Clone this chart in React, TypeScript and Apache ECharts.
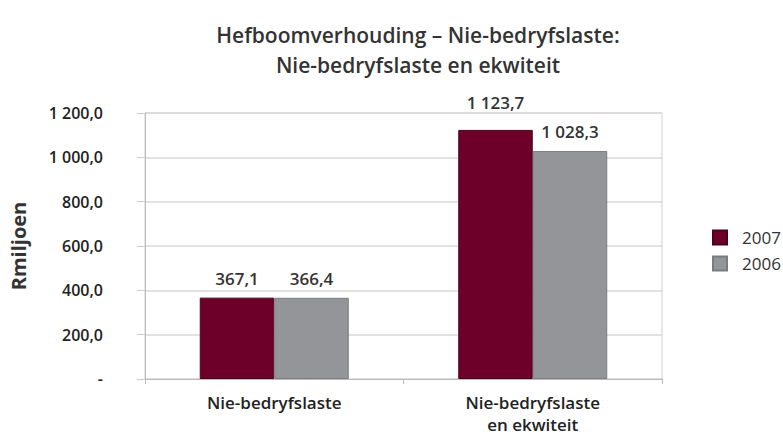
import React, { useEffect, useRef } from "react";
import * as echarts from "echarts";

const categories = ["Nie-bedryfslaste", "Nie-bedryfslaste\nen ekwiteit"];
const series2007 = [367.1, 1123.7];
const series2006 = [366.4, 1028.3];
const seriesNames = ["2007", "2006"];
const yTicks = [0, 200, 400, 600, 800, 1000, 1200];

const fmt = (v: number, dec: number) => {
  if (v === 0) return "-";
  const s = v.toFixed(dec);
  const [i, d] = s.split(".");
  const ii = i.replace(/\B(?=(\d{3})+(?!\d))/g, " ");
  return d ? ii + "," + d : ii;
};

const FONT = "'Open Sans', 'Noto Sans', sans-serif";

export default function App() {
  const ref = useRef<HTMLDivElement>(null);
  useEffect(() => {
    if (!ref.current) return;
    const chart = echarts.init(ref.current, undefined, { renderer: "svg" });
    const labelStyle = {
      show: true,
      position: "top" as const,
      distance: 11,
      fontFamily: FONT,
      fontSize: 17,
      fontWeight: 600,
      color: "#333",
      formatter: (p: any) => fmt(p.value, 1),
    };
    chart.setOption({
      animation: false,
      backgroundColor: "#fff",
      title: {
        text: "Hefboomverhouding – Nie-bedryfslaste:\nNie-bedryfslaste en ekwiteit",
        left: 413,
        textAlign: "center",
        top: 15,
        textStyle: {
          fontFamily: FONT,
          fontSize: 21,
          fontWeight: 600,
          color: "#333",
          lineHeight: 30,
        },
      },
      legend: {
        orient: "vertical",
        left: 707,
        top: 224,
        itemWidth: 14,
        itemHeight: 14,
        itemGap: 9,
        icon: "rect",
        textStyle: { fontFamily: FONT, fontSize: 17, color: "#333", padding: [0, 0, 0, 10] },
        data: seriesNames,
      },
      grid: {
        left: 145,
        right: 121,
        top: 113,
        bottom: 52,
        show: true,
        borderColor: "#d0d0d0",
        borderWidth: 1,
      },
      xAxis: {
        type: "category",
        data: categories,
        axisLine: { lineStyle: { color: "#bbb", width: 1 } },
        axisTick: { show: true, length: 5, lineStyle: { color: "#bbb" } },
        axisLabel: {
          fontFamily: FONT,
          fontSize: 17,
          fontWeight: 600,
          color: "#222",
          margin: 12,
          lineHeight: 22,
        },
      },
      yAxis: {
        type: "value",
        min: 0,
        max: 1200,
        interval: 200,
        axisLine: { show: true, lineStyle: { color: "#bbb", width: 1 } },
        axisTick: { show: true, length: 8, lineStyle: { color: "#ccc" } },
        splitLine: { lineStyle: { color: "#d9d9d9", width: 1.5 } },
        axisLabel: {
          fontFamily: FONT,
          fontSize: 16,
          fontWeight: 600,
          color: "#222",
          margin: 42,
          formatter: (v: number) => (yTicks.includes(v) ? fmt(v, 1) : ""),
        },
        name: "Rmiljoen",
        nameLocation: "middle",
        nameGap: 117,
        nameRotate: 90,
        nameTextStyle: {
          fontFamily: FONT,
          fontSize: 20,
          fontWeight: 700,
          color: "#333",
        },
      },
      series: [
        {
          name: seriesNames[0],
          type: "bar",
          barWidth: 74.5,
          barGap: "0%",
          data: series2007.map((v, i) =>
            i === 1 ? { value: v, label: { distance: 19 } } : v
          ),
          itemStyle: { color: "#6c0029", borderColor: "#4e001d", borderWidth: 1 },
          label: labelStyle,
        },
        {
          name: seriesNames[1],
          type: "bar",
          barWidth: 74.5,
          data: series2006,
          itemStyle: { color: "#939598", borderColor: "#7a7c7f", borderWidth: 1 },
          label: labelStyle,
        },
      ],
    });
    return () => chart.dispose();
  }, []);
  return <div ref={ref} style={{ width: 783, height: 435, position: "absolute", left: 0, top: 0 }} />;
}
